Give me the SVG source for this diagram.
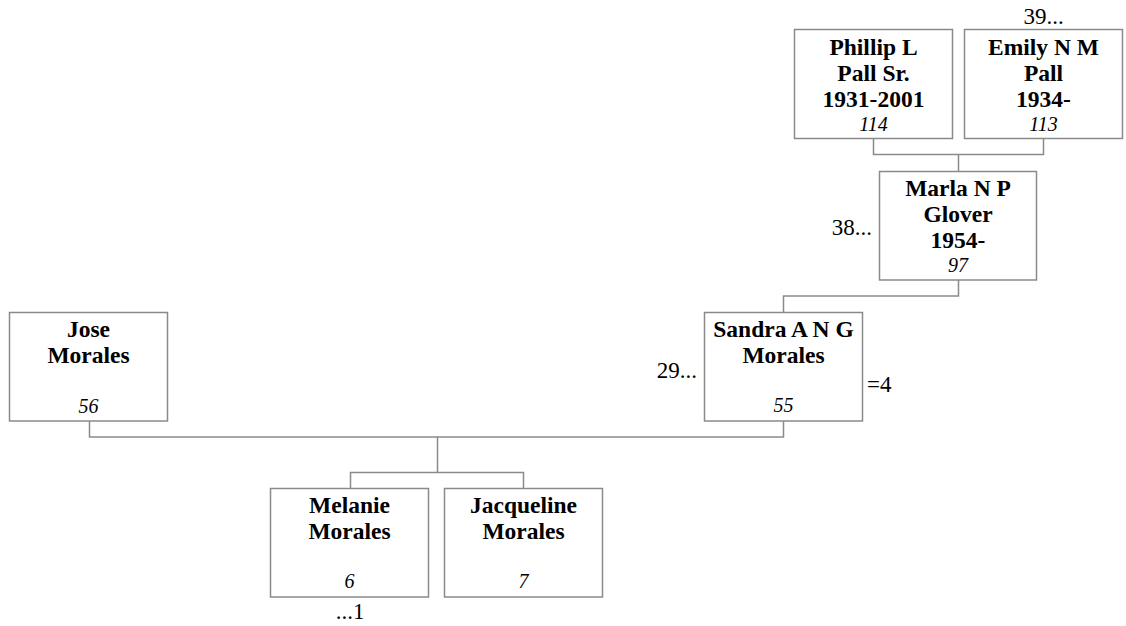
<svg xmlns="http://www.w3.org/2000/svg" width="1126" height="626" viewBox="0 0 1126 626">
<style>
.box{fill:#fff;stroke:#8a8a8a;stroke-width:1.5}
.ln{fill:none;stroke:#8a8a8a;stroke-width:1.5}
.nm{font-family:"Liberation Serif","Times New Roman",serif;font-weight:bold;font-size:23.5px;text-anchor:middle;fill:#000}
.id{font-family:"Liberation Serif","Times New Roman",serif;font-style:italic;font-size:20px;text-anchor:middle;fill:#000}
.lb{font-family:"Liberation Serif","Times New Roman",serif;font-size:23px;fill:#000}
</style>
<rect width="1126" height="626" fill="#fff"/>
<g id="connectors">
<path class="ln" d="M873.5,138.5 V154.5 H1043.5 V138.5 M958.5,154.5 V171.5"/>
<path class="ln" d="M958.5,280 V296 H783.5 V312.5"/>
<path class="ln" d="M89.5,421 V437 H783.5 V421 M437.5,437 V472.5 M350.5,488.5 V472.5 H523.5 V488.5"/>
</g>
<g id="phillip">
<rect class="box" x="794.5" y="29.5" width="158" height="109"/>
<text class="nm" x="873.5" y="55">Phillip L</text>
<text class="nm" x="873.5" y="80.5">Pall Sr.</text>
<text class="nm" x="873.5" y="106.5">1931-2001</text>
<text class="id" x="873.5" y="131">114</text>
</g>
<g id="emily">
<rect class="box" x="964.5" y="29.5" width="158" height="109"/>
<text class="nm" x="1043.5" y="55">Emily N M</text>
<text class="nm" x="1043.5" y="80.5">Pall</text>
<text class="nm" x="1043.5" y="106.5">1934-</text>
<text class="id" x="1043.5" y="131">113</text>
<text class="lb" x="1043.5" y="24" text-anchor="middle">39...</text>
</g>
<g id="marla">
<rect class="box" x="879.5" y="171.5" width="157" height="108.5"/>
<text class="nm" x="958" y="195.5">Marla N P</text>
<text class="nm" x="958" y="221.5">Glover</text>
<text class="nm" x="958" y="248">1954-</text>
<text class="id" x="958" y="271.5">97</text>
<text class="lb" x="872" y="235" text-anchor="end">38...</text>
</g>
<g id="sandra">
<rect class="box" x="704.5" y="312.5" width="158" height="108.5"/>
<text class="nm" x="783.5" y="337">Sandra A N G</text>
<text class="nm" x="783.5" y="363">Morales</text>
<text class="id" x="783.5" y="412">55</text>
<text class="lb" x="697" y="378" text-anchor="end">29...</text>
<text class="lb" x="867" y="392">=4</text>
</g>
<g id="jose">
<rect class="box" x="9.5" y="312.5" width="158" height="108.5"/>
<text class="nm" x="88.5" y="337">Jose</text>
<text class="nm" x="88.5" y="363">Morales</text>
<text class="id" x="88.5" y="412.5">56</text>
</g>
<g id="melanie">
<rect class="box" x="270.5" y="488.5" width="158" height="108.5"/>
<text class="nm" x="349.5" y="513">Melanie</text>
<text class="nm" x="349.5" y="539">Morales</text>
<text class="id" x="349.5" y="588">6</text>
<text class="lb" x="350" y="619" text-anchor="middle">...1</text>
</g>
<g id="jacqueline">
<rect class="box" x="444.5" y="488.5" width="158" height="108.5"/>
<text class="nm" x="523.5" y="513">Jacqueline</text>
<text class="nm" x="523.5" y="539">Morales</text>
<text class="id" x="523.5" y="588">7</text>
</g>
</svg>
